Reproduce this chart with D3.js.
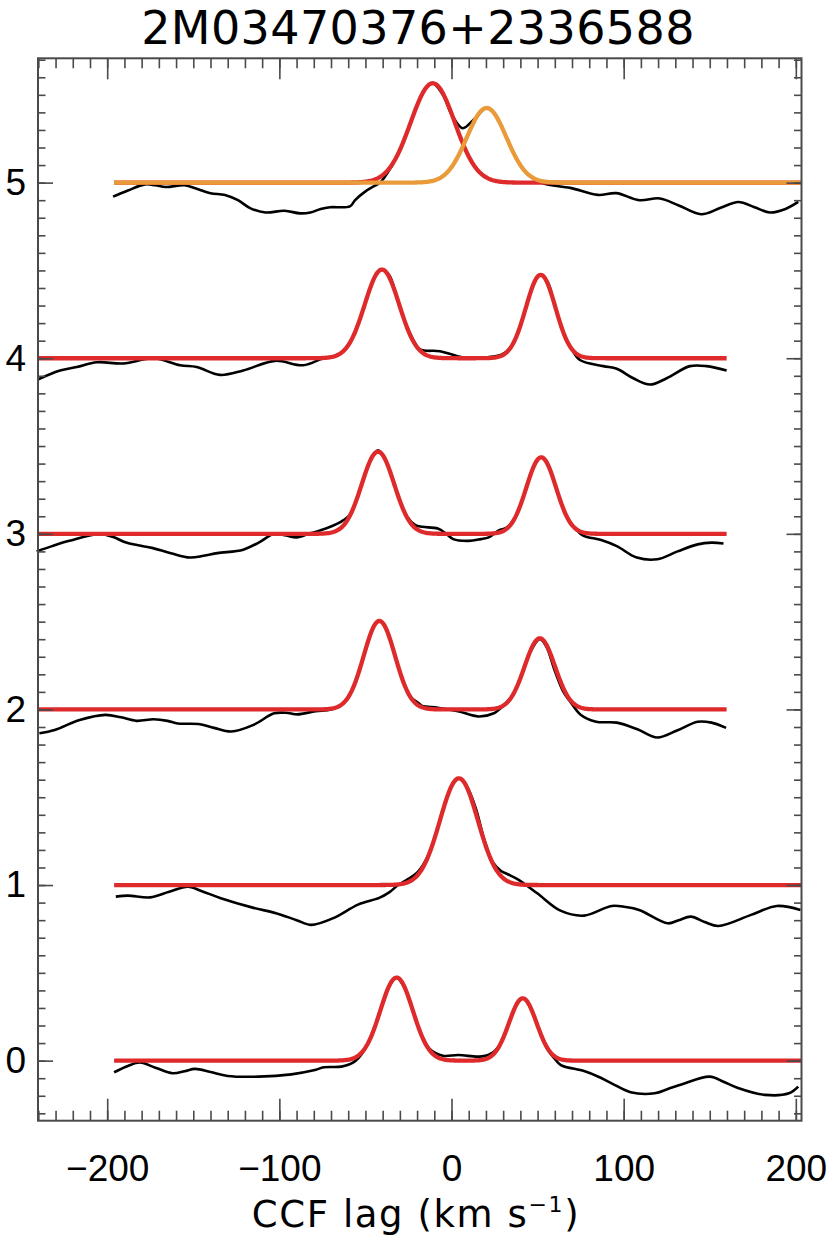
<!DOCTYPE html>
<html>
<head>
<meta charset="utf-8">
<script src="https://cdn.jsdelivr.net/npm/d3@7"></script>
<style>
body { margin: 0; background: #fff; }
svg { display: block; font-family: "DejaVu Sans", sans-serif; }
.frame { fill: none; stroke: #4a4a4a; stroke-width: 2; }
.tick line { stroke: #4a4a4a; stroke-width: 1.6; }
.tick text { fill: #000; font-size: 37px; }
.ccf { fill: none; stroke: #000; stroke-width: 2.6; }
.fit { fill: none; stroke-width: 4.3; }
</style>
</head>
<body>
<div id="chart"></div>
<script>
/* CCF of each visit, shifted by its offset: [lag km/s, value] */
var ccf0 = [[-196,-0.066],[-188,-0.03],[-181,-0.011],[-172,-0.04],[-162,-0.072],[-155,-0.06],[-149,-0.047],[-140,-0.065],[-130,-0.087],[-112,-0.091],[-93,-0.078],[-80,-0.055],[-74,-0.038],[-64,-0.034],[-57,-0.01],[-52,0.04],[-47,0.13],[-42,0.265],[-37,0.408],[-32,0.473],[-27,0.41],[-22,0.27],[-17,0.135],[-12,0.06],[-5,0.028],[4,0.032],[16,0.023],[22,0.035],[27,0.075],[32,0.18],[37,0.305],[41.4,0.355],[46,0.3],[51,0.17],[56,0.06],[60,0.01],[63.5,-0.025],[77,-0.059],[85,-0.09],[93,-0.129],[104,-0.18],[118,-0.186],[126,-0.16],[134,-0.134],[150,-0.091],[158,-0.12],[166,-0.154],[182,-0.195],[196,-0.186],[201.4,-0.148]];
var ccf1 = [[-195,0.934],[-188,0.94],[-175,0.93],[-164,0.962],[-153,0.99],[-145,0.965],[-134,0.925],[-115,0.87],[-102,0.84],[-90,0.8],[-81.5,0.773],[-69,0.81],[-54,0.89],[-42,0.927],[-36,0.96],[-31,1.0],[-26,1.03],[-20,1.07],[-15,1.14],[-10,1.26],[-5,1.43],[0,1.56],[4.3,1.608],[9,1.56],[14,1.44],[19,1.26],[24,1.13],[28.8,1.08],[33,1.06],[39,1.03],[49.8,0.953],[63.3,0.854],[77,0.826],[93,0.881],[101,0.875],[109,0.858],[125.6,0.782],[132,0.8],[139,0.82],[147,0.79],[155,0.767],[174,0.83],[189,0.881],[202.7,0.858]];
var ccf2 = [[-239.4,1.864],[-230.5,1.883],[-216,1.94],[-201,1.969],[-192,1.955],[-183,1.935],[-173,1.944],[-165,1.935],[-159,1.92],[-147,1.917],[-138,1.895],[-128,1.874],[-115,1.912],[-103,1.978],[-95,1.98],[-89.6,1.972],[-79,1.99],[-70,2.0],[-64,2.026],[-59,2.086],[-54,2.208],[-49,2.372],[-45,2.476],[-41.9,2.504],[-38,2.46],[-34,2.346],[-29,2.185],[-24,2.073],[-19,2.035],[-17,2.02],[-8,2.01],[3.8,1.99],[15.7,1.96],[24.6,1.978],[30,2.02],[35,2.073],[40,2.178],[45,2.313],[51.3,2.4],[55,2.36],[60,2.22],[65,2.1],[69,2.044],[75,1.97],[84,1.93],[96,1.925],[108,1.887],[119.5,1.84],[131,1.88],[143,1.93],[151,1.925],[159.5,1.895]];
var ccf3 = [[-241,2.9],[-232,2.93],[-222,2.96],[-204,3.0],[-196,2.98],[-189,2.95],[-174,2.92],[-163,2.89],[-152,2.865],[-144,2.875],[-136,2.89],[-121,2.91],[-112,2.95],[-103,3.0],[-96,2.99],[-90,2.98],[-83,3.0],[-76,3.02],[-64,3.07],[-58.5,3.114],[-54,3.227],[-50,3.346],[-46,3.44],[-42.7,3.475],[-39,3.433],[-35,3.335],[-31,3.216],[-26,3.1],[-21,3.05],[-17,3.04],[-8,3.03],[-3,3.0],[1,2.97],[10,2.96],[17,2.97],[21.6,2.98],[27.5,3.02],[32,3.035],[37,3.093],[42,3.22],[47,3.366],[52.1,3.436],[57,3.37],[62,3.225],[67,3.097],[72,3.03],[76.5,2.99],[87,2.965],[96,2.93],[107.6,2.865],[119.5,2.855],[131.3,2.9],[143,2.94],[151,2.95],[158,2.945]];
var ccf4 = [[-240,3.88],[-227.4,3.93],[-217.7,3.95],[-206,3.977],[-190.6,3.97],[-173.2,4.0],[-157.7,3.96],[-148,3.95],[-134.5,3.905],[-121,3.93],[-102.5,3.985],[-86.1,3.96],[-74.5,4.0],[-68,4.011],[-63,4.039],[-58,4.107],[-53,4.228],[-48,4.378],[-44,4.473],[-40.4,4.505],[-36,4.47],[-32,4.356],[-27,4.206],[-22,4.1],[-18.3,4.05],[-6.7,4.04],[3,4.013],[10.7,4.0],[24.3,4.01],[29,4.02],[34,4.056],[39,4.157],[44,4.315],[48,4.431],[51.8,4.475],[56,4.43],[60,4.3],[65,4.146],[70,4.05],[74.6,3.99],[88.2,3.955],[96,3.94],[105.6,3.886],[115.3,3.85],[125,3.886],[138.5,3.955],[148.2,3.955],[159.8,3.93]];
var ccf5 = [[-196.6,4.92],[-188,4.955],[-178,4.99],[-172,4.985],[-166,4.975],[-155,4.985],[-148,4.965],[-140,4.94],[-131.6,4.93],[-124,4.9],[-117,4.855],[-108,4.83],[-97,4.84],[-88,4.825],[-82,4.83],[-76,4.85],[-70.6,4.86],[-59,4.865],[-56,4.9],[-50,4.95],[-45,4.98],[-41.5,5.0],[-35,5.09],[-30,5.186],[-25,5.309],[-20,5.44],[-15,5.538],[-10.9,5.566],[-5,5.5],[0,5.39],[6.5,5.31],[13,5.36],[20.4,5.425],[25,5.392],[30,5.3],[35,5.19],[40,5.1],[45,5.04],[53,4.996],[69,4.97],[85,4.93],[95.7,4.94],[109,4.9],[121,4.91],[132,4.87],[145,4.82],[156,4.855],[166.6,4.89],[176,4.86],[185,4.83],[194,4.85],[201.4,4.89]];
var ccfRows = [ccf0, ccf1, ccf2, ccf3, ccf4, ccf5];

/* Gaussian fits: baseline offset, lag range, peaks [centre, height, sigma] */
var fitOffsets = [0, 1, 2, 3, 4, 5];
var fitStart = [-196, -196, -240.2, -240.2, -240.2, -196];
var fitEnd = [203.3, 203.3, 160, 160, 160, 203.3];
var fitPeaks = [
	[[-31.9, 0.473, 9.4], [41.4, 0.355, 8.0]],
	[[4.3, 0.608, 11.0]],
	[[-41.9, 0.504, 9.1], [51.3, 0.405, 8.8]],
	[[-42.7, 0.468, 9.4], [52.1, 0.436, 8.6]],
	[[-40.4, 0.505, 10.0], [51.8, 0.475, 8.6]],
	[[-10.9, 0.566, 12.8], [20.4, 0.425, 11.5]]
];
/* top row: components drawn one by one */
var splitRow = 5;
var componentColors = ["#de2a2b", "#e99b3a"];

var xTicks = [-200, -100, 0, 100, 200];
var yTicks = [0, 1, 2, 3, 4, 5];
var title = "2M03470376+2336588";

var W = 830, H = 1240;
var x = d3.scaleLinear().domain([-240.2, 203.3]).range([38, 801.5]);
var y = d3.scaleLinear().domain([-0.342, 5.708]).range([1120.7, 58.3]);

var svg = d3.select("#chart").append("svg").attr("width", W).attr("height", H);

var line = d3.line()
	.x(function(d){ return x(d[0]); })
	.y(function(d){ return y(d[1]); })
	.curve(d3.curveCatmullRom.alpha(0.5));

var plot = svg.append("g");

/* black CCFs */
plot.selectAll("path.ccf").data(ccfRows).enter()
	.append("path")
	.attr("class", "ccf")
	.attr("d", line);

function gaussSum (peaks, off, a, b) {
	var pts = [];
	for (var v = a; v <= b + 0.001; v += 0.5) {
		var s = off;
		peaks.forEach(function(p){
			s += p[1] * Math.exp(-(v - p[0]) * (v - p[0]) / (2 * p[2] * p[2]));
		});
		pts.push([v, s]);
	}
	return pts;
}

var fitLine = d3.line()
	.x(function(d){ return x(d[0]); })
	.y(function(d){ return y(d[1]); });

fitPeaks.forEach(function(peaks, i){
	if (i === splitRow) {
		peaks.forEach(function(p, j){
			plot.append("path")
				.attr("class", "fit")
				.attr("stroke", componentColors[j])
				.attr("d", fitLine(gaussSum([p], fitOffsets[i], fitStart[i], fitEnd[i])));
		});
	} else {
		plot.append("path")
			.attr("class", "fit")
			.attr("stroke", componentColors[0])
			.attr("d", fitLine(gaussSum(peaks, fitOffsets[i], fitStart[i], fitEnd[i])));
	}
});

/* axes: minor ticks then major ticks with labels */
var x0 = x.range()[0], x1 = x.range()[1], y0 = y.range()[0], y1 = y.range()[1];
var xMinor = d3.range(-240, 201, 10);
var yMinor = d3.range(-3, 58, 1).map(function(v){ return v / 10; });

svg.append("g").attr("transform", "translate(0," + y0 + ")")
	.call(d3.axisBottom(x).tickValues(xMinor).tickSize(-10).tickFormat(""));
svg.append("g").attr("transform", "translate(0," + y0 + ")")
	.call(d3.axisBottom(x).tickValues(xTicks).tickSize(-22).tickPadding(34));
svg.append("g").attr("transform", "translate(0," + y1 + ")")
	.call(d3.axisTop(x).tickValues(xMinor).tickSize(-10).tickFormat(""));
svg.append("g").attr("transform", "translate(0," + y1 + ")")
	.call(d3.axisTop(x).tickValues(xTicks).tickSize(-21).tickFormat(""));

svg.append("g").attr("transform", "translate(" + x0 + ",0)")
	.call(d3.axisLeft(y).tickValues(yMinor).tickSize(-7.5).tickFormat(""));
svg.append("g").attr("transform", "translate(" + x0 + ",0)")
	.call(d3.axisLeft(y).tickValues(yTicks).tickSize(-15).tickPadding(12).tickFormat(d3.format("d")));
svg.append("g").attr("transform", "translate(" + x1 + ",0)")
	.call(d3.axisRight(y).tickValues(yMinor).tickSize(-7.5).tickFormat(""));
svg.append("g").attr("transform", "translate(" + x1 + ",0)")
	.call(d3.axisRight(y).tickValues(yTicks).tickSize(-15).tickFormat(""));

svg.selectAll(".domain").remove();
svg.selectAll(".tick text").attr("font-family", null).attr("font-size", null);

svg.append("rect")
	.attr("class", "frame")
	.attr("x", x0).attr("y", y1)
	.attr("width", x1 - x0).attr("height", y0 - y1);

/* title and x label */
svg.append("text")
	.attr("x", 418).attr("y", 44)
	.attr("text-anchor", "middle")
	.style("font-size", "46px")
	.style("letter-spacing", "0.4px")
	.text(title);

var xl = svg.append("text")
	.attr("x", 416).attr("y", 1227)
	.attr("text-anchor", "middle")
	.style("font-size", "37px")
	.style("letter-spacing", "1.6px");
xl.append("tspan").text("CCF lag (km s");
xl.append("tspan").attr("dy", -15).style("font-size", "22px").text("−1");
xl.append("tspan").attr("dy", 15).text(")");
</script>
</body>
</html>
